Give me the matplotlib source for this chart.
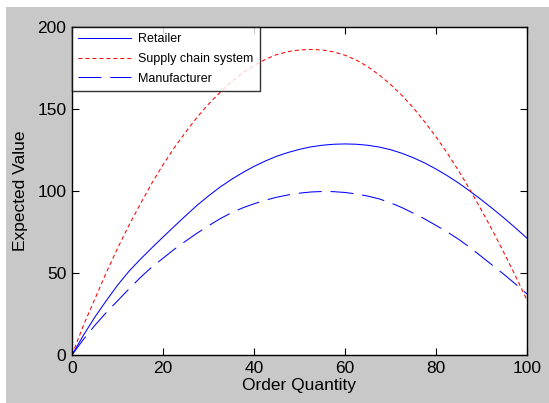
import matplotlib
matplotlib.use('Agg')
import matplotlib.pyplot as plt
from matplotlib.patches import Rectangle

# datos (paso de 2.5)
cantidad = [0, 2.5, 5, 7.5, 10, 12.5, 15, 17.5, 20, 22.5, 25, 27.5, 30, 32.5, 35, 37.5, 40,
            42.5, 45, 47.5, 50, 52.5, 55, 57.5, 60, 62.5, 65, 67.5, 70, 72.5, 75, 77.5, 80,
            82.5, 85, 87.5, 90, 92.5, 95, 97.5, 100]
retailer = [0, 12, 23, 33, 42.5, 51, 58.3, 65.2, 71.9, 78.5, 85, 91.3, 97, 102.3, 107, 111.2, 115,
            118.3, 121.2, 123.5, 125.4, 126.9, 127.9, 128.5, 128.7, 128.5, 127.9, 126.8, 125.2, 123,
            120.3, 117.1, 113.4, 109.3, 104.8, 99.8, 94.6, 89.1, 83.4, 77.4, 71.2]
supply_chain = [0, 18, 34, 50, 65, 79, 92, 104.5, 116, 126.5, 136, 145, 153, 160, 166.5, 172, 176.5,
                180.3, 183.2, 185, 186, 186.3, 186, 184.8, 182.8, 179.8, 175.8, 170.8, 165, 158.3,
                150.7, 142.2, 133, 123, 112.2, 100.6, 88.3, 75.5, 62, 48, 33.5]
manufacturer = [0, 9.5, 18, 25.8, 33, 40.2, 47.2, 53.5, 59, 64.5, 69.5, 74.3, 78.8, 83, 86.7, 89.7, 92.2,
                94.4, 96.2, 97.6, 98.7, 99.4, 99.7, 99.6, 99.1, 98.2, 96.9, 95.2, 92.8, 89.9,
                86.5, 83, 79, 75, 70.5, 65.5, 60, 54.5, 49, 43.2, 37.2]

plt.rcParams['font.family'] = ['Liberation Sans', 'DejaVu Sans']

W, H = 549, 403
fig = plt.figure(figsize=(W / 100, H / 100), dpi=100)
fig.patch.set_facecolor('white')
# fondo gris estilo MATLAB
fig.patches.append(Rectangle((6 / W, 0), 1, (H - 7) / H, transform=fig.transFigure,
                             facecolor='#c8c8c8', edgecolor='none', zorder=-10))

ax = fig.add_axes([72 / W, (H - 355) / H, (527 - 72) / W, (355 - 27) / H])
ax.set_facecolor('white')

lw = 0.75
ax.plot(cantidad, retailer, color='#0000ff', linewidth=lw, label='Retailer')
ax.plot(cantidad, supply_chain, color='#ff0000', linewidth=lw, linestyle=(0, (3.8, 2.9)),
        label='Supply chain system')
ax.plot(cantidad, manufacturer, color='#0000ff', linewidth=lw, linestyle=(0, (22, 8.5)),
        label='Manufacturer')

ax.set_xlim(0, 100)
ax.set_ylim(0, 200)
ax.set_xticks([0, 20, 40, 60, 80, 100])
ax.set_yticks([0, 50, 100, 150, 200])
ax.tick_params(direction='in', length=5, width=0.8, top=True, right=True,
               labelsize=12.5, colors='black', pad=4)
for s in ax.spines.values():
    s.set_linewidth(1.0)
    s.set_color('black')

ax.set_xlabel('Order Quantity', fontsize=12.5, labelpad=2)
ax.set_ylabel('Expected Value', fontsize=12.5, labelpad=7)

leg = ax.legend(loc='upper left', fontsize=9, frameon=True, fancybox=False,
                borderaxespad=0, handlelength=4.2, borderpad=0.5, labelspacing=0.62,
                handletextpad=0.6)
leg.get_frame().set_edgecolor('black')
leg.get_frame().set_linewidth(1.0)

plt.savefig('out.png', dpi=100, facecolor=fig.get_facecolor())
